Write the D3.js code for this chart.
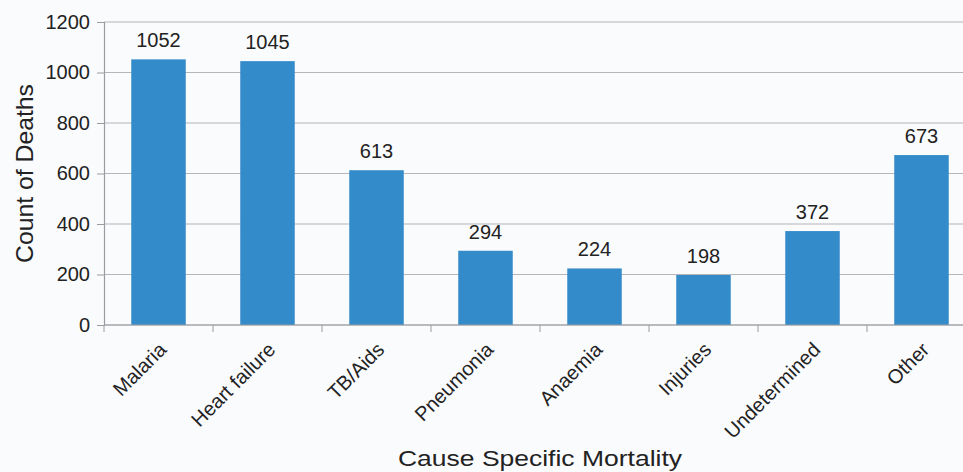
<!DOCTYPE html>
<html>
<head>
<meta charset="utf-8">
<script src="https://cdn.jsdelivr.net/npm/d3@7"></script>
<style>
  body { margin: 0; background: #fafbfd; }
  svg { display: block; font-family: "Liberation Sans", Arial, sans-serif; }
</style>
</head>
<body>
<div id="chart"></div>
<script>
// data
const causes = ["Malaria", "Heart failure", "TB/Aids", "Pneumonia", "Anaemia", "Injuries", "Undetermined", "Other"];
const deaths = [1052, 1045, 613, 294, 224, 198, 372, 673];
const yTicks = [0, 200, 400, 600, 800, 1000, 1200];

const W = 963, H = 472;
const margin = {top: 22, right: -13, bottom: 147, left: 104};
const width = W - margin.left - margin.right,
      height = H - margin.top - margin.bottom;

const svg = d3.select("#chart").append("svg")
    .attr("width", W)
    .attr("height", H);

svg.append("rect").attr("width", W).attr("height", H).attr("fill", "#fafbfd");

const g = svg.append("g")
    .attr("transform", "translate(" + margin.left + "," + margin.top + ")");

const x = d3.scaleBand().domain(causes).range([0, width]).paddingInner(0.5).paddingOuter(0.25);
const y = d3.scaleLinear().domain([0, 1200]).range([height, 0]);

// gridlines
g.selectAll(".grid")
  .data(yTicks)
  .enter().append("line")
    .attr("x1", 0).attr("x2", width)
    .attr("y1", d => y(d)).attr("y2", d => y(d))
    .style("stroke", "#b4b6b9")
    .style("stroke-width", 1.2);

// bars
g.selectAll(".bar")
  .data(deaths)
  .enter().append("rect")
    .attr("x", (d, i) => x(causes[i]))
    .attr("y", d => y(d))
    .attr("width", x.bandwidth())
    .attr("height", d => height - y(d))
    .style("fill", "#348bc9");

// value labels
g.selectAll(".val")
  .data(deaths)
  .enter().append("text")
    .attr("x", (d, i) => x(causes[i]) + x.bandwidth() / 2)
    .attr("y", d => y(d) - 12)
    .attr("text-anchor", "middle")
    .style("font-size", "20px")
    .style("fill", "#222")
    .text(d => d);

// y axis
const yAxis = g.append("g")
    .call(d3.axisLeft(y).tickValues(yTicks).tickFormat(d3.format("d")).tickSize(7).tickPadding(7));
yAxis.select(".domain").style("stroke", "#9a9c9f").style("stroke-width", 1.2);
yAxis.selectAll(".tick line").style("stroke", "#9a9c9f");
yAxis.selectAll("text").style("font-size", "20px").style("fill", "#222");

// x axis (ticks between categories)
const xb = g.append("g").attr("transform", "translate(0," + height + ")");
xb.append("line").attr("x1", 0).attr("x2", width).style("stroke", "#9a9c9f").style("stroke-width", 1.2);
xb.selectAll(".xt")
  .data(d3.range(causes.length + 1))
  .enter().append("line")
    .attr("x1", i => i * x.step()).attr("x2", i => i * x.step())
    .attr("y1", 0).attr("y2", 7)
    .style("stroke", "#9a9c9f");
xb.selectAll(".xl")
  .data(causes)
  .enter().append("text")
    .attr("transform", d => "translate(" + (x(d) + x.bandwidth() / 2 + 9) + ",26) rotate(-45)")
    .attr("text-anchor", "end")
    .style("font-size", "20px")
    .style("fill", "#222")
    .text(d => d);

// axis titles
svg.append("text")
    .attr("transform", "translate(33," + (margin.top + height / 2) + ") rotate(-90)")
    .attr("text-anchor", "middle")
    .attr("textLength", 179)
    .attr("lengthAdjust", "spacingAndGlyphs")
    .style("font-size", "24px")
    .style("fill", "#222")
    .text("Count of Deaths");

svg.append("text")
    .attr("x", margin.left + width / 2)
    .attr("y", 466)
    .attr("text-anchor", "middle")
    .attr("textLength", 284)
    .attr("lengthAdjust", "spacingAndGlyphs")
    .style("font-size", "22px")
    .style("fill", "#222")
    .text("Cause Specific Mortality");
</script>
</body>
</html>
